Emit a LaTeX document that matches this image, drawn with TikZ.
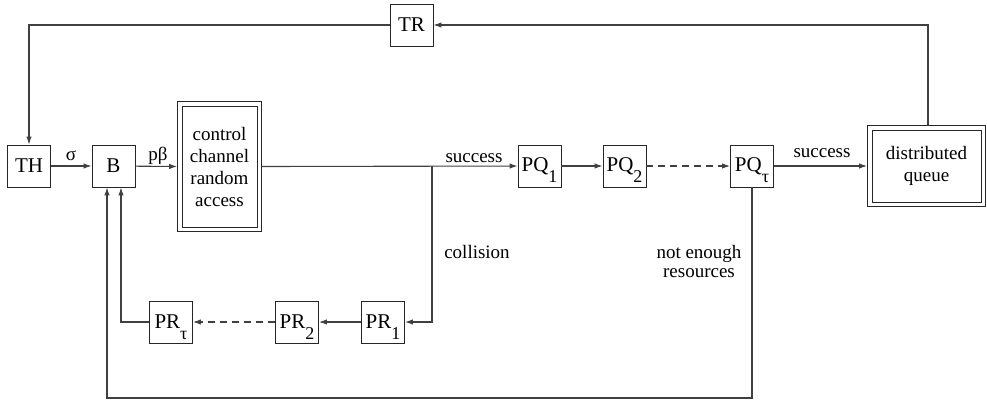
\documentclass[tikz,border=0pt]{standalone}
\usepackage{fontspec}
\setmainfont{Liberation Serif}
\usetikzlibrary{arrows.meta}

% lowered subscript that does not change the box height
\newcommand\lowsub[1]{\smash{\raisebox{-11pt}{\fontsize{18}{18}\selectfont #1}}}

\tikzset{
  blk/.style={draw=black!85, line width=0.9pt, minimum width=43pt,
    minimum height=42pt, inner sep=0pt, font=\fontsize{21}{21}\selectfont},
  dblk/.style={draw=black!85, line width=0.9pt, inner sep=0pt, align=center,
    font=\fontsize{19}{22}\selectfont},
  inner/.style={draw=black!85, line width=0.9pt},
  wire/.style={draw=black!75, line width=1.1pt},
  arr/.style={wire, -{Latex[length=8pt,width=5.5pt]}},
  dashwire/.style={dash pattern=on 7pt off 5pt},
  lbl/.style={font=\fontsize{19}{19}\selectfont, inner sep=0pt, anchor=base},
}

\begin{document}
\begin{tikzpicture}[x=1pt,y=-1pt]
\useasboundingbox (0,0) rectangle (987,404);

% blocks
\node[blk] (TH) at (29,166) {TH};
\node[blk] (B) at (113.5,166) {B};
\node[dblk, minimum width=84pt, minimum height=130pt] (ctrl) at (219.5,166.5)
  {control\\channel\\random\\access};
\draw[inner] ([shift={(5pt,-5pt)}]ctrl.north west) rectangle ([shift={(-5pt,5pt)}]ctrl.south east);
\node[blk] (PQ1) at (539.5,166) {PQ\lowsub{1}};
\node[blk] (PQ2) at (624.5,166) {PQ\lowsub{2}};
\node[blk] (PQt) at (752,166) {PQ\lowsub{τ}};
\node[dblk, minimum width=118pt, minimum height=81pt] (dq) at (926.5,166)
  {distributed\\queue};
\draw[inner] ([shift={(5pt,-5pt)}]dq.north west) rectangle ([shift={(-5pt,5pt)}]dq.south east);
\node[blk] (TR) at (411.5,25) {TR};
\node[blk] (PRt) at (171,322) {PR\lowsub{τ}};
\node[blk] (PR2) at (297,322) {PR\lowsub{2}};
\node[blk] (PR1) at (383,322) {PR\lowsub{1}};

\coordinate (J) at (432,166);
\coordinate (BL) at (107,398);

% forward path
\draw[arr] (TH) -- (B);
\draw[arr] (B) -- (ctrl.west);
\draw[arr] (ctrl.east) -- (PQ1);
\draw[arr] (PQ1) -- (PQ2);
\draw[arr, dashwire] (PQ2) -- (PQt);
\draw[arr] (PQt) -- (dq.west);

% feedback through TR
\draw[arr] ([xshift=1.5pt]dq.north) |- (TR.east);
\draw[arr] (TR.west) -| (TH.north);

% collision retries
\draw[arr] (J) |- (PR1.east);
\draw[arr] (PR1) -- (PR2);
\draw[arr, dashwire] (PR2) -- (PRt);
\draw[arr] (PRt.west) -| ([xshift=7.5pt]B.south);

% not enough resources
\draw[arr] (PQt.south) |- (BL) -- ([xshift=-6.5pt]B.south);

% labels
\node[lbl] (lsig) at (71,160) {σ};
\node[lbl] (lpb) at (158,160) {pβ};
\node[lbl] (ls1) at (474,162) {success};
\node[lbl] (ls2) at (822,157) {success};
\node[lbl] (lcol) at (477,258) {collision};
\node[lbl, align=center, font=\fontsize{19}{19}\selectfont] (lner) at (699,277)
  {not enough\\resources};
\end{tikzpicture}
\end{document}
